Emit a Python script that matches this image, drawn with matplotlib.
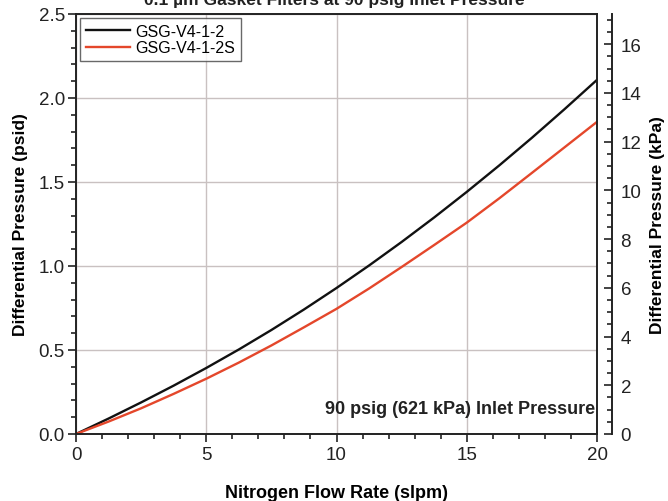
import numpy as np
from matplotlib import pyplot as plt
from matplotlib.ticker import MultipleLocator

plt.rcParams['font.family'] = ['Liberation Sans', 'DejaVu Sans']

# values
flow_slpm = [0, 1.25, 2.5, 3.75, 5, 6.25, 7.5, 8.75, 10,
             11.25, 12.5, 13.75, 15, 16.25, 17.5, 18.75, 20]
dp_v4_1_2 = [0, 0.092, 0.188, 0.288, 0.393, 0.503, 0.619, 0.741, 0.869,
             1.003, 1.143, 1.289, 1.441, 1.599, 1.763, 1.933, 2.108]
dp_v4_1_2s = [0, 0.074, 0.153, 0.239, 0.329, 0.425, 0.527, 0.635, 0.745,
              0.866, 0.994, 1.125, 1.258, 1.403, 1.554, 1.706, 1.858]
series_labels = ["GSG-V4-1-2", "GSG-V4-1-2S"]
series_colors = ["#111111", "#e4472b"]
PSI_TO_KPA = 6.89476

fig = plt.figure(figsize=(6.68, 5.02), dpi=100)
ax = fig.add_axes([76 / 668, 67 / 502, 521 / 668, 420 / 502])

for ys, lab, col in zip([dp_v4_1_2, dp_v4_1_2s], series_labels, series_colors):
    ax.plot(flow_slpm, ys, color=col, linewidth=1.7, label=lab)

ax.set_xlim(0, 20)
ax.set_ylim(0, 2.5)
ax.xaxis.set_major_locator(MultipleLocator(5))
ax.xaxis.set_minor_locator(MultipleLocator(1))
ax.yaxis.set_major_locator(MultipleLocator(0.5))
ax.yaxis.set_minor_locator(MultipleLocator(0.1))
ax.yaxis.set_major_formatter(lambda v, p: f"{v:.1f}")
ax.tick_params(which='both', direction='out', width=1.2, labelsize=13.5, colors='#222222')
ax.tick_params(which='major', length=6)
ax.tick_params(which='minor', length=3.5)
ax.tick_params(axis='x', which='major', pad=3)
ax.tick_params(axis='y', which='major', pad=2)
ax.grid(True, which='major', color='#c9c1c1', linewidth=1.0)
for s in ax.spines.values():
    s.set_linewidth(1.4)
    s.set_color('#222222')

ax.set_xlabel("Nitrogen Flow Rate (slpm)", fontsize=13, fontweight='bold', labelpad=15)
ax.set_ylabel("Differential Pressure (psid)", fontsize=12.5, fontweight='bold', labelpad=8)

leg = ax.legend(loc='upper left', fontsize=11.5, frameon=True, fancybox=False,
                handlelength=2.8, borderaxespad=0.25, borderpad=0.35,
                labelspacing=0.1, handletextpad=0.3)
leg.get_frame().set_edgecolor('#444444')
leg.get_frame().set_linewidth(1.0)

ax.text(19.92, 0.1, "90 psig (621 kPa) Inlet Pressure", ha='right', va='bottom',
        fontsize=13, fontweight='bold', color='#222222')

# right-hand kPa scale
ax2 = ax.twinx()
ax2.set_ylim(0, 2.5 * PSI_TO_KPA)
for side in ['left', 'top', 'bottom']:
    ax2.spines[side].set_visible(False)
ax2.spines['right'].set_position(('outward', 11))
ax2.spines['right'].set_linewidth(1.4)
ax2.spines['right'].set_color('#222222')
ax2.yaxis.set_major_locator(MultipleLocator(2))
ax2.yaxis.set_minor_locator(MultipleLocator(0.5))
ax2.tick_params(which='both', direction='in', width=1.2, labelsize=13.5, colors='#222222')
ax2.tick_params(which='major', length=6, pad=6)
ax2.tick_params(which='minor', length=3.5)
ax2.set_ylabel("Differential Pressure (kPa)", fontsize=12.5, fontweight='bold', labelpad=6)

fig.text(0.5, 1 - 5 / 502, "0.1 \u00b5m Gasket Filters at 90 psig Inlet Pressure",
         ha='center', va='baseline', fontsize=12.5, fontweight='bold', color='#222222')

fig.savefig("out.png", dpi=100)
